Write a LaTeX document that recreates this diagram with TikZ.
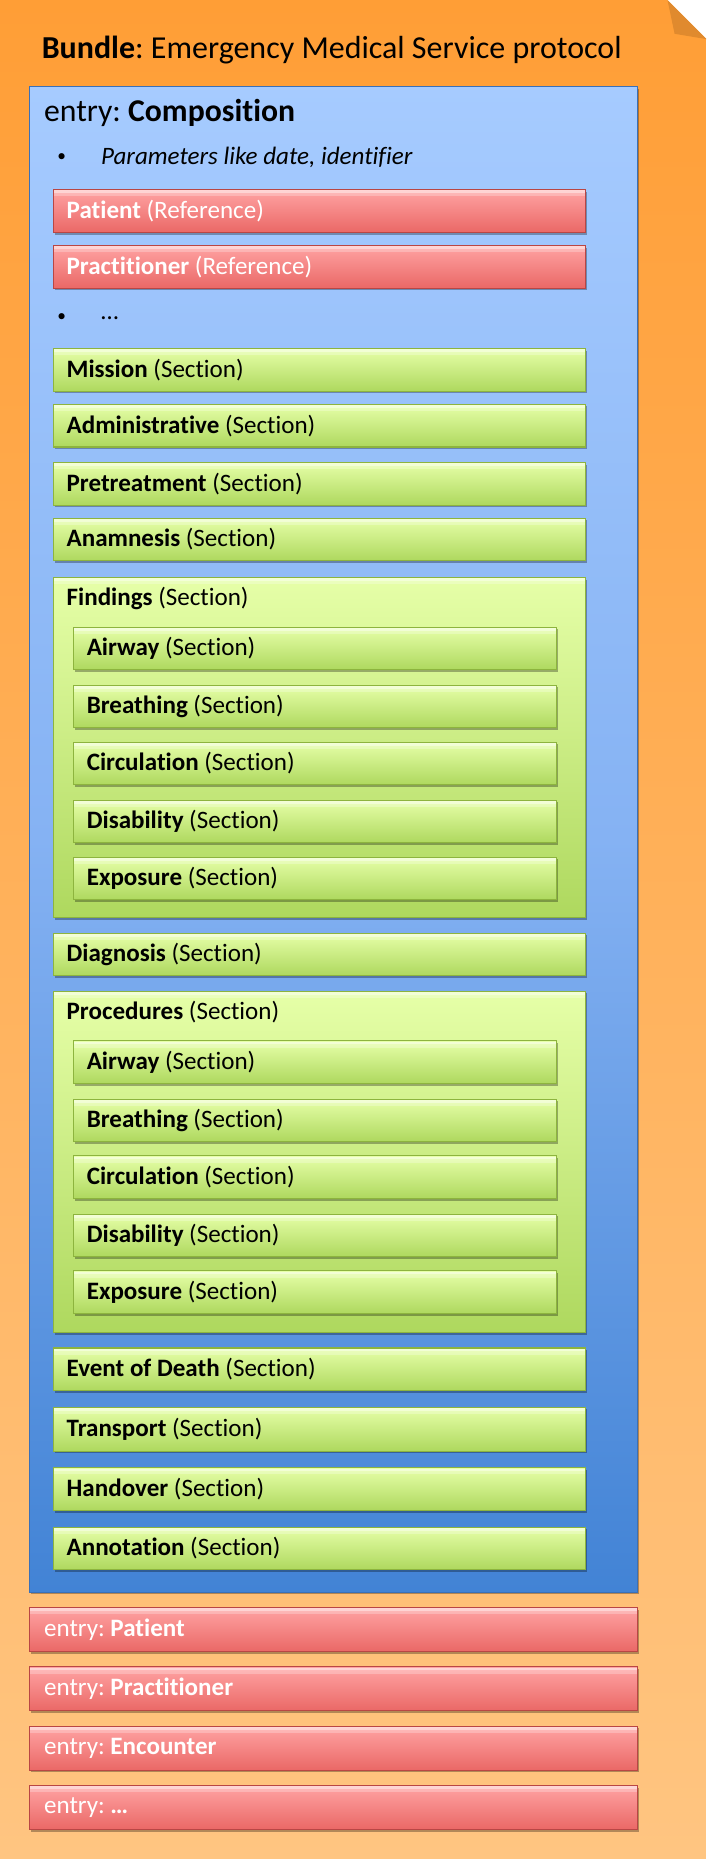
\documentclass[tikz,border=0pt]{standalone}
\usepackage{fontspec}
\setmainfont{Carlito}[Ligatures={NoCommon}]
\frenchspacing
\usetikzlibrary{shadows}
\definecolor{orTop}{HTML}{FF9E36}
\definecolor{orBot}{HTML}{FFC581}
\definecolor{foldc}{HTML}{E08A2E}
\definecolor{blTop}{HTML}{A6CBFF}
\definecolor{blMid}{HTML}{85B2F3}
\definecolor{blBot}{HTML}{4283D5}
\definecolor{blBorder}{HTML}{3A70B8}
\definecolor{grTop}{HTML}{E6FFA8}
\definecolor{grBot}{HTML}{AED85E}
\definecolor{grBorder}{HTML}{8DB43E}
\definecolor{rdTop}{HTML}{FFA3A3}
\definecolor{rdBot}{HTML}{EA6866}
\definecolor{rdBorder}{HTML}{B94644}
\def\U{0.8897pt}
\tikzset{
  box/.style={rectangle, anchor=north west, inner sep=0pt, outer sep=0pt, line width=0.8pt,
    drop shadow={shadow xshift=1.2pt, shadow yshift=-1.6pt, opacity=0.3, fill=black}},
  hilite/.style={path picture={
    \fill[white,opacity=0.55] ([yshift=-0.6pt]path picture bounding box.north west) rectangle ([yshift=-2.6pt]path picture bounding box.north east);
    \fill[white,opacity=0.25] ([yshift=-2.6pt]path picture bounding box.north west) rectangle ([yshift=-5pt]path picture bounding box.north east);}},
  gbar/.style={box, hilite, top color=grTop, bottom color=grBot, draw=grBorder, minimum width=449*\U, minimum height=36*\U},
  gin/.style={gbar, minimum width=407*\U},
  gbig/.style={gbar, minimum height=288*\U},
  rbar/.style={box, hilite, top color=rdTop, bottom color=rdBot, draw=rdBorder, minimum width=449*\U, minimum height=36*\U},
  rentry/.style={rbar, minimum width=513*\U, minimum height=37*\U},
  lbl/.style={anchor=west, inner sep=0pt, font=\fontsize{18.8}{21}\selectfont},
  wlbl/.style={lbl, text=white},
  bul/.style={anchor=center, inner sep=0pt, font=\fontsize{13}{15}\selectfont},
}
\begin{document}
\begin{tikzpicture}[x=0.8897pt, y=-0.8897pt]
\useasboundingbox (0,0) rectangle (596,1568);
% Bundle with folded corner
\shade[top color=orTop, bottom color=orBot] (0,0) -- (563,0) -- (596,33) -- (596,1568) -- (0,1568) -- cycle;
\fill[foldc] (563,0) -- (569,28.5) -- (596,33) -- cycle;
\node[anchor=west, inner sep=0pt, font=\fontsize{24}{28}\selectfont] (bundle) at (35,42) {\textbf{Bundle}: Emergency Medical Service protocol};
% Composition
\node[box, top color=blTop, bottom color=blBot, middle color=blMid, draw=blBorder, minimum width=513*\U, minimum height=1270*\U] (comp) at (25,73) {};
\node[anchor=west, inner sep=0pt, font=\fontsize{23.8}{27}\selectfont] (compt) at (37,95) {entry: \textbf{Composition}};
\node[bul] (b1) at (52,133) {•};
\node[lbl] (par) at (85,133) {\itshape Parameters like date, identifier};
\node[rbar] (pat) at (45,160) {};
\node[wlbl] at ([xshift=11*\U]pat.west) {\textbf{Patient} (Reference)};
\node[rbar] (prac) at (45,207) {};
\node[wlbl] at ([xshift=11*\U]prac.west) {\textbf{Practitioner} (Reference)};
\node[bul] (b2) at (52,268) {•};
\node[lbl] (dots) at (85,268) {…};
\node[gbar] (mission) at (45,294) {};
\node[lbl] at ([xshift=11*\U]mission.west) {\textbf{Mission} (Section)};
\node[gbar] (admin) at (45,341) {};
\node[lbl] at ([xshift=11*\U]admin.west) {\textbf{Administrative} (Section)};
\node[gbar] (pre) at (45,390) {};
\node[lbl] at ([xshift=11*\U]pre.west) {\textbf{Pretreatment} (Section)};
\node[gbar] (anam) at (45,437) {};
\node[lbl] at ([xshift=11*\U]anam.west) {\textbf{Anamnesis} (Section)};
% Findings
\node[gbig, minimum height=287*\U] (find) at (45,487) {};
\node[lbl] (findt) at (56,505) {\textbf{Findings} (Section)};
\node[gin] (fa) at (62,529) {};
\node[lbl] at ([xshift=11*\U]fa.west) {\textbf{Airway} (Section)};
\node[gin] (fb) at (62,578) {};
\node[lbl] at ([xshift=11*\U]fb.west) {\textbf{Breathing} (Section)};
\node[gin] (fc) at (62,626) {};
\node[lbl] at ([xshift=11*\U]fc.west) {\textbf{Circulation} (Section)};
\node[gin] (fd) at (62,675) {};
\node[lbl] at ([xshift=11*\U]fd.west) {\textbf{Disability} (Section)};
\node[gin] (fe) at (62,723) {};
\node[lbl] at ([xshift=11*\U]fe.west) {\textbf{Exposure} (Section)};
\node[gbar] (diag) at (45,787) {};
\node[lbl] at ([xshift=11*\U]diag.west) {\textbf{Diagnosis} (Section)};
% Procedures
\node[gbig] (proc) at (45,836) {};
\node[lbl] (proct) at (56,854) {\textbf{Procedures} (Section)};
\node[gin] (pa) at (62,878) {};
\node[lbl] at ([xshift=11*\U]pa.west) {\textbf{Airway} (Section)};
\node[gin] (pb) at (62,927) {};
\node[lbl] at ([xshift=11*\U]pb.west) {\textbf{Breathing} (Section)};
\node[gin] (pc) at (62,975) {};
\node[lbl] at ([xshift=11*\U]pc.west) {\textbf{Circulation} (Section)};
\node[gin] (pd) at (62,1024) {};
\node[lbl] at ([xshift=11*\U]pd.west) {\textbf{Disability} (Section)};
\node[gin] (pe) at (62,1072) {};
\node[lbl] at ([xshift=11*\U]pe.west) {\textbf{Exposure} (Section)};
\node[gbar] (death) at (45,1137) {};
\node[lbl] at ([xshift=11*\U]death.west) {\textbf{Event of Death} (Section)};
\node[gbar, minimum height=37*\U] (trans) at (45,1187) {};
\node[lbl] at ([xshift=11*\U]trans.west) {\textbf{Transport} (Section)};
\node[gbar] (hand) at (45,1238) {};
\node[lbl] at ([xshift=11*\U]hand.west) {\textbf{Handover} (Section)};
\node[gbar] (annot) at (45,1288) {};
\node[lbl] at ([xshift=11*\U]annot.west) {\textbf{Annotation} (Section)};
% other entries
\node[rentry] (e1) at (25,1356) {};
\node[wlbl] at ([xshift=12*\U]e1.west) {entry: \textbf{Patient}};
\node[rentry] (e2) at (25,1406) {};
\node[wlbl] at ([xshift=12*\U]e2.west) {entry: \textbf{Practitioner}};
\node[rentry] (e3) at (25,1456) {};
\node[wlbl] at ([xshift=12*\U]e3.west) {entry: \textbf{Encounter}};
\node[rentry] (e4) at (25,1506) {};
\node[wlbl] at ([xshift=12*\U]e4.west) {entry: \textbf{…}};
\end{tikzpicture}
\end{document}
